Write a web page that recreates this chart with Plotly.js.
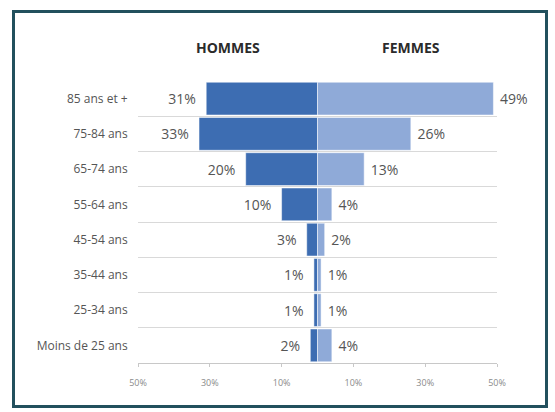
<!DOCTYPE html>
<html>
<head>
<meta charset="utf-8">
<script src="https://cdn.plot.ly/plotly-3.0.1.min.js"></script>
<style>
  html, body { margin: 0; padding: 0; background: #ffffff; }
  #wrap { position: relative; width: 555px; height: 412px; }
  #chart { width: 555px; height: 412px; }
  #frame { position: absolute; left: 12px; top: 10px; width: 536px; height: 398px;
           box-sizing: border-box; border: 3px solid #22505d; pointer-events: none; }
</style>
</head>
<body>
<div id="wrap">
  <div id="chart"></div>
  <div id="frame"></div>
</div>
<script>
// Data (top to bottom)
const categories = ["85 ans et +", "75-84 ans", "65-74 ans", "55-64 ans", "45-54 ans", "35-44 ans", "25-34 ans", "Moins de 25 ans"];
const hommes = [31, 33, 20, 10, 3, 1, 1, 2];
const femmes = [49, 26, 13, 4, 2, 1, 1, 4];
const tickValues = [-50, -30, -10, 10, 30, 50];
const tickLabels = ["50%", "30%", "10%", "10%", "30%", "50%"];
const seriesTitles = ["HOMMES", "FEMMES"];

const FONT = "'Open Sans', Lato, sans-serif";
const labelFont = { family: FONT, size: 14, color: "#555555" };
const NB = "\u00a0";

const traces = [
  {
    type: "bar", orientation: "h", name: seriesTitles[0],
    y: categories, x: hommes.map(v => -v),
    text: hommes.map(v => v + "%" + NB + NB), textposition: "outside",
    textfont: labelFont, constraintext: "none", cliponaxis: false,
    marker: { color: "#3d6db2", line: { color: "rgba(255,255,255,0.5)", width: 1 } },
    hoverinfo: "skip"
  },
  {
    type: "bar", orientation: "h", name: seriesTitles[1],
    y: categories, x: femmes,
    text: femmes.map(v => NB + v + "%"), textposition: "outside",
    textfont: labelFont, constraintext: "none", cliponaxis: false,
    marker: { color: "#8faad8", line: { color: "rgba(255,255,255,0.5)", width: 1 } },
    hoverinfo: "skip"
  }
];

const layout = {
  width: 555, height: 412,
  margin: { l: 138, r: 58, t: 81, b: 49 },
  paper_bgcolor: "rgba(0,0,0,0)", plot_bgcolor: "#ffffff",
  showlegend: false,
  barmode: "relative",
  bargap: 0.07,
  font: { family: FONT, color: "#555555" },
  xaxis: {
    range: [-50, 50], fixedrange: true,
    tickmode: "array", tickvals: tickValues, ticktext: tickLabels,
    showgrid: false, zeroline: false,
    showline: true, linecolor: "#c8c8c8", linewidth: 1,
    ticks: "outside", ticklen: 3, tickcolor: "#c8c8c8",
    ticklabelstandoff: 8,
    tickfont: { family: FONT, size: 9, color: "#8a8a8a" }
  },
  yaxis: {
    type: "category", autorange: "reversed", fixedrange: true,
    tickson: "boundaries", ticks: "",
    ticksuffix: NB + NB + NB,
    showgrid: true, gridcolor: "#d9d9d9", gridwidth: 1,
    showline: false, zeroline: false,
    tickfont: { family: FONT, size: 12, color: "#555555" }
  },
  annotations: [
    { text: "<b>" + seriesTitles[0] + "</b>", xref: "x", yref: "paper", x: -25, y: 1.12, yanchor: "middle",
      showarrow: false, font: { family: FONT, size: 14, color: "#2b2b2b" } },
    { text: "<b>" + seriesTitles[1] + "</b>", xref: "x", yref: "paper", x: 26, y: 1.12, yanchor: "middle",
      showarrow: false, font: { family: FONT, size: 14, color: "#2b2b2b" } }
  ]
};

Plotly.newPlot("chart", traces, layout, { displayModeBar: false, staticPlot: true });
</script>
</body>
</html>
